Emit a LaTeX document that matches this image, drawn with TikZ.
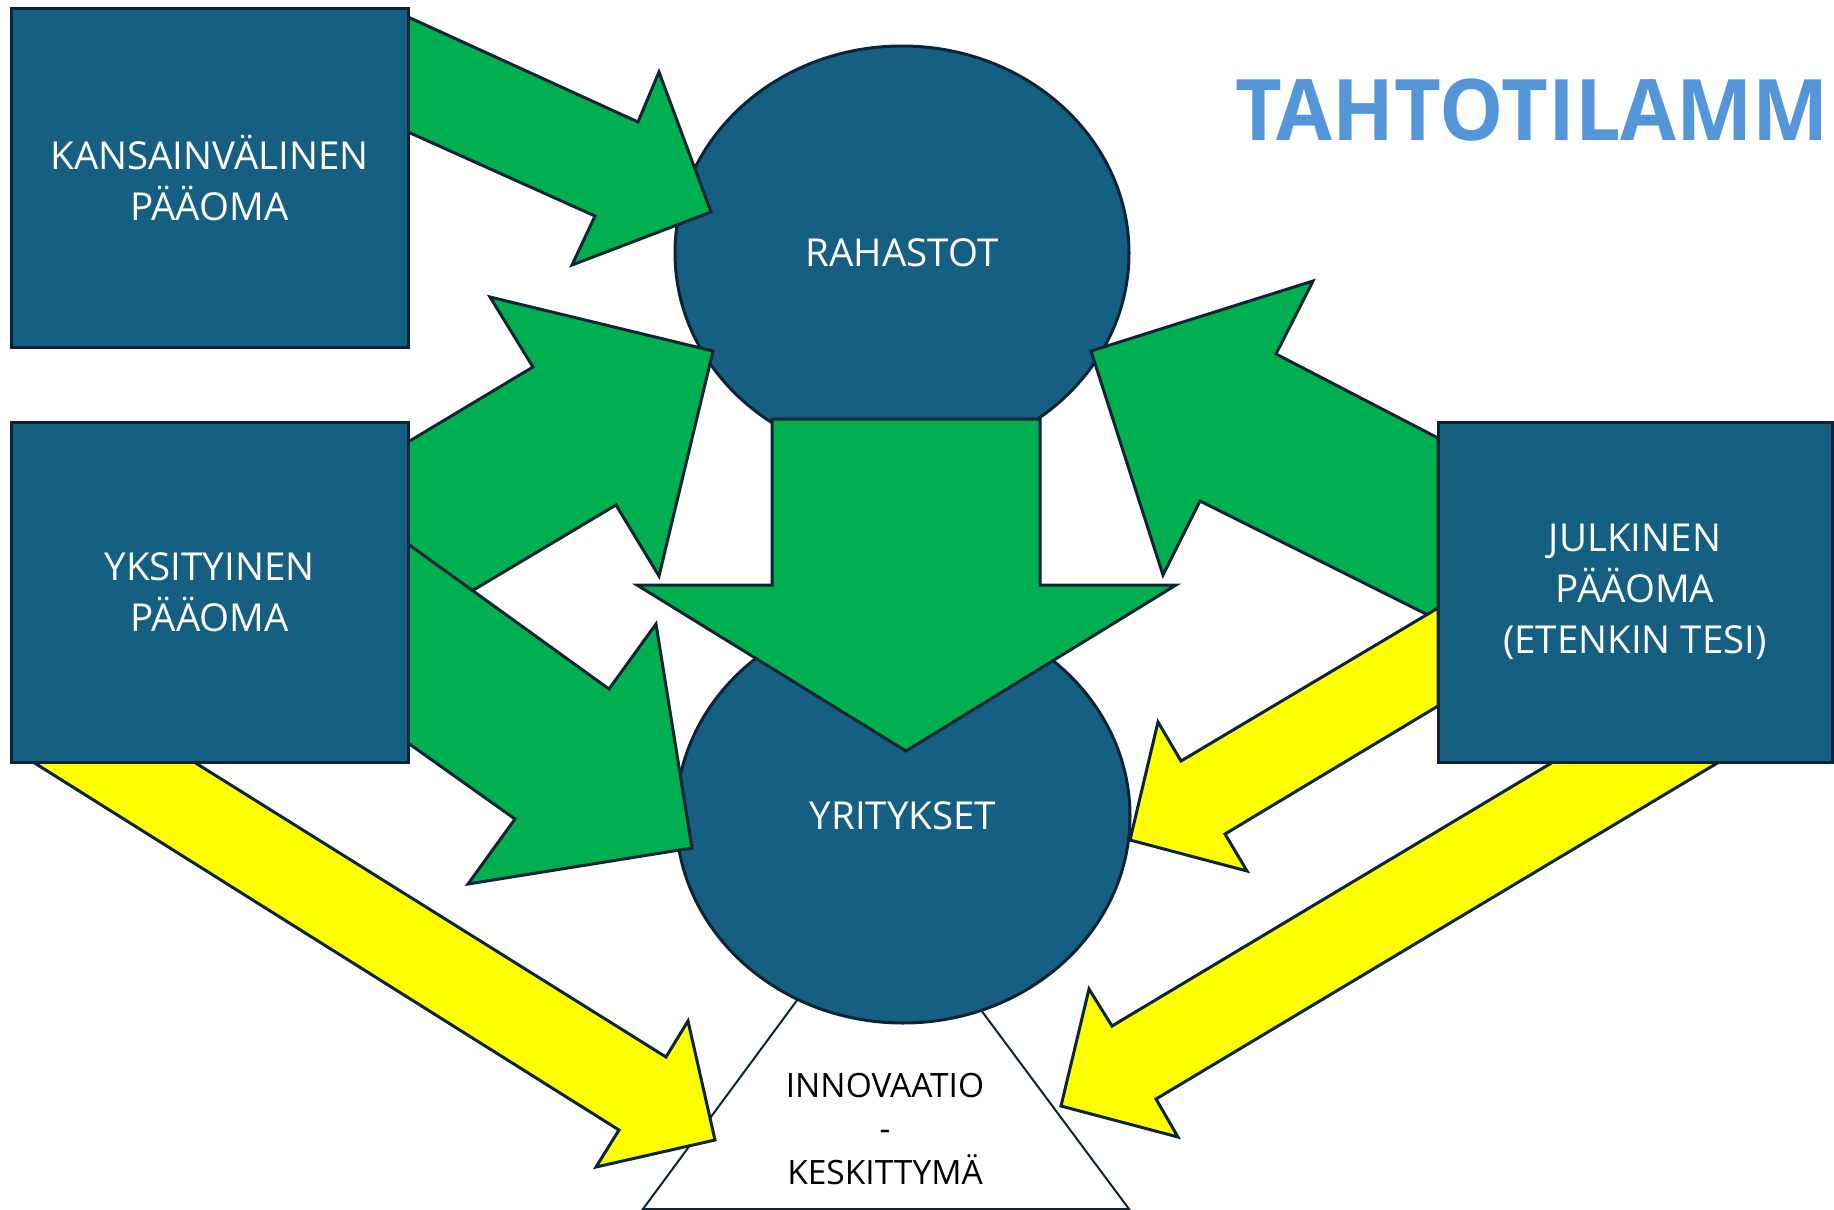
\documentclass[tikz,border=0pt]{standalone}
\usepackage{fontspec}
\usepackage{graphicx}
\setmainfont{Open Sans}
\usetikzlibrary{shapes.geometric}
\definecolor{boxfill}{RGB}{21,96,130}
\definecolor{edgec}{RGB}{12,36,54}
\definecolor{grn}{RGB}{0,176,80}
\definecolor{ylw}{RGB}{255,255,0}
\definecolor{titleblue}{RGB}{84,150,216}
\begin{document}
\begin{tikzpicture}[x=1pt,y=-1pt,
  box/.style={draw=edgec, line width=3pt, fill=boxfill, text=white, align=center,
    font=\fontsize{38.5}{51}\selectfont, inner sep=0pt},
  oval/.style={ellipse, draw=edgec, line width=3pt, fill=boxfill, text=white,
    minimum width=454pt, minimum height=414pt, inner sep=0pt,
    font=\fontsize{38.5}{51}\selectfont},
  garrow/.style={draw=edgec, line width=3pt, fill=grn},
  yarrow/.style={draw=edgec, line width=3pt, fill=ylw}]
\useasboundingbox (0,0) rectangle (1834,1210);
\begin{scope}
\clip (0,0) rectangle (1834,1210);
% triangle
\draw[draw=edgec, line width=2pt, fill=white] (885,881) -- (643,1209) -- (1129,1209) -- cycle;
\node[align=center, inner sep=0pt, font=\fontsize{33.5}{43.5}\selectfont] (innov) at (885,1129) {INNOVAATIO\\-\\KESKITTYMÄ};
% ellipses
\node[oval] (rahastot) at (902,253) {RAHASTOT};
\node[oval] (yritykset) at (903,816) {YRITYKSET};
% green arrows
\draw[garrow] (408,17) -- (638,122) -- (659,72) -- (711,212) -- (572,265) -- (595,216) -- (408,132) -- cycle;
\draw[garrow] (408,442) -- (533,367) -- (490,297) -- (713,351) -- (659,576) -- (616,505) -- (408,629) -- cycle;
\draw[garrow] (408,544) -- (609,689) -- (656,624) -- (692,848) -- (468,884) -- (515,819) -- (408,743) -- cycle;
\draw[garrow] (772,419) -- (1040,419) -- (1040,585) -- (1176,585) -- (906,751) -- (637,585) -- (772,585) -- cycle;
\draw[garrow] (1438,438) -- (1276,354) -- (1313,281) -- (1091,351) -- (1163,575) -- (1200,501) -- (1438,620) -- cycle;
% yellow arrows
\draw[yarrow] (1438,608) -- (1181,761) -- (1158,722) -- (1130,840) -- (1247,871) -- (1225,834) -- (1438,706) -- cycle;
\draw[yarrow] (1553,762) -- (1112,1026) -- (1089,989) -- (1061,1106) -- (1178,1137) -- (1156,1099) -- (1719,762) -- cycle;
\draw[yarrow] (33,762) -- (194,762) -- (666,1057) -- (688,1021) -- (715,1140) -- (596,1167) -- (619,1130) -- cycle;
% boxes
\node[box, minimum width=397pt, minimum height=339pt] (kans) at (209.5,177.5) {KANSAINVÄLINEN\\PÄÄOMA};
\node[box, minimum width=397pt, minimum height=340pt] (yks) at (209.5,592) {YKSITYINEN\\PÄÄOMA};
\node[box, minimum width=394pt, minimum height=340pt] (julk) at (1635,592) {JULKINEN\\PÄÄOMA\\(ETENKIN TESI)};
% title
\node[anchor=base west, inner sep=0pt, text=titleblue, font=\fontsize{85}{85}\selectfont\bfseries] (title) at (1235,140) {\resizebox{594pt}{\height}{TAHTOTILAMM}};
\end{scope}
\end{tikzpicture}
\end{document}
